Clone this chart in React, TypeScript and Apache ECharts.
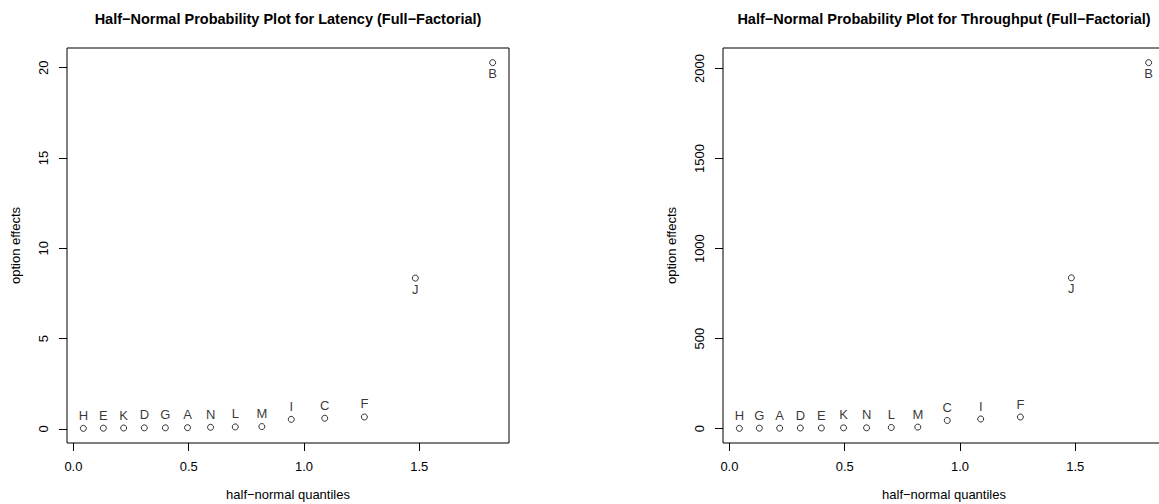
import React, { useEffect, useRef } from "react";
import * as echarts from "echarts";

// Half-normal quantiles (x) shared by both panels
const quantiles = [0.0432, 0.1299, 0.218, 0.3076, 0.3989, 0.4951, 0.595, 0.7021, 0.8172, 0.945, 1.0901, 1.2621, 1.4833, 1.8185];

// Latency panel
const latencyLabels = ["H", "E", "K", "D", "G", "A", "N", "L", "M", "I", "C", "F", "J", "B"];
const latencyEffects = [0.03, 0.04, 0.05, 0.06, 0.06, 0.07, 0.09, 0.11, 0.13, 0.53, 0.59, 0.66, 8.35, 20.28];
const latencyTicks = [0, 5, 10, 15, 20];

// Throughput panel
const throughputLabels = ["H", "G", "A", "D", "E", "K", "N", "L", "M", "C", "I", "F", "J", "B"];
const throughputEffects = [2, 3, 3, 4, 4, 5, 5, 7, 9, 46, 54, 65, 838, 2033];
const throughputTicks = [0, 500, 1000, 1500, 2000];

const xTicks = [0, 0.5, 1.0, 1.5];
const belowLabels = ["J", "B"];

const titles = [
  "Half\u2212Normal Probability Plot for Latency (Full\u2212Factorial)",
  "Half\u2212Normal Probability Plot for Throughput (Full\u2212Factorial)",
];
const xName = "half\u2212normal quantiles";
const yName = "option effects";

const FONT = "'Liberation Sans', Arial, Helvetica, sans-serif";

function padRange(vals: number[]) {
  const mn = Math.min(...vals);
  const mx = Math.max(...vals);
  const p = (mx - mn) * 0.04;
  return [mn - p, mx + p];
}

export default function App() {
  const ref = useRef<HTMLDivElement>(null);
  useEffect(() => {
    if (!ref.current) return;
    const chart = echarts.init(ref.current, undefined, { renderer: "svg" });
    const [xmin, xmax] = padRange(quantiles);
    const panels = [
      { labels: latencyLabels, values: latencyEffects, ticks: latencyTicks, left: 67 },
      { labels: throughputLabels, values: throughputEffects, ticks: throughputTicks, left: 723 },
    ];
    const textBase = { color: "#000", fontFamily: FONT, fontSize: 13 };
    const option: any = {
      animation: false,
      backgroundColor: "#fff",
      title: panels.map((p, i) => ({
        text: titles[i],
        left: p.left + 221,
        textAlign: "center",
        top: 11,
        padding: 0,
        textStyle: { ...textBase, fontSize: 14.5, fontWeight: "bold" },
      })),
      grid: panels.map((p) => ({
        left: p.left,
        top: 48,
        width: 442,
        height: 395,
        show: true,
        containLabel: false,
        outerBoundsMode: "none",
        borderColor: "#000",
        borderWidth: 1,
        backgroundColor: "transparent",
      })),
      xAxis: panels.map((p, i) => ({
        type: "value",
        gridIndex: i,
        min: xmin,
        max: xmax,
        name: xName,
        nameLocation: "middle",
        nameGap: 45,
        nameTextStyle: textBase,
        axisLine: { show: false, onZero: false },
        splitLine: { show: false },
        axisTick: { show: true, length: 8, inside: false, customValues: xTicks, lineStyle: { color: "#000" } },
        axisLabel: { ...textBase, margin: 17, customValues: xTicks, formatter: (v: number) => v.toFixed(1) },
      })),
      yAxis: panels.map((p, i) => {
        const [ymin, ymax] = padRange(p.values);
        return {
          type: "value",
          gridIndex: i,
          min: ymin,
          max: ymax,
          name: yName,
          nameLocation: "middle",
          nameGap: 45,
          nameRotate: 90,
          nameTextStyle: textBase,
          axisLine: { show: false, onZero: false },
          splitLine: { show: false },
          axisTick: { show: true, length: 8, inside: false, customValues: p.ticks, lineStyle: { color: "#000" } },
          axisLabel: { ...textBase, rotate: 90, margin: 17, customValues: p.ticks, formatter: (v: number) => String(v) },
        };
      }),
      series: panels.map((p, i) => ({
        type: "scatter",
        xAxisIndex: i,
        yAxisIndex: i,
        symbol: "circle",
        symbolSize: 6,
        itemStyle: { color: "transparent", borderColor: "#000", borderWidth: 1 },
        emphasis: { disabled: true },
        label: {
          show: true,
          formatter: (d: any) => d.name,
          position: "top",
          distance: 3,
          ...textBase,
          textBorderWidth: 0,
          textBorderColor: "transparent",
        },
        data: quantiles.map((q, j) => {
          const below = belowLabels.includes(p.labels[j]);
          return {
            name: p.labels[j],
            value: [q, p.values[j]],
            label: below ? { position: "bottom", distance: 1, color: "#000" } : { color: "#000" },
          };
        }),
      })),
    };
    chart.setOption(option);
    return () => chart.dispose();
  }, []);
  return (
    <div
      ref={ref}
      style={{ position: "fixed", left: 0, top: 0, width: 1159, height: 504 }}
    />
  );
}
